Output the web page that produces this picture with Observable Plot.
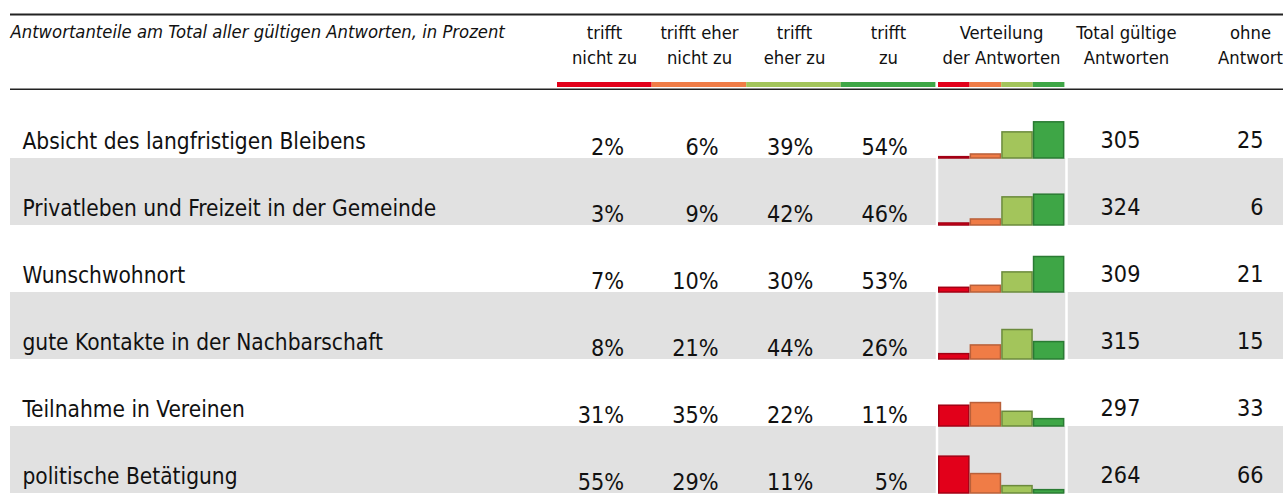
<!DOCTYPE html>
<html>
<head>
<meta charset="utf-8">
<script src="https://cdn.jsdelivr.net/npm/d3@7"></script>
<script src="https://cdn.jsdelivr.net/npm/@observablehq/plot@0.6"></script>
<style>
  html, body { margin: 0; padding: 0; background: #fff; }
  #chart svg { display: block; }
</style>
</head>
<body>
<div id="chart"></div>
<script>
// ---------- data ----------
const categories = [
  "Absicht des langfristigen Bleibens",
  "Privatleben und Freizeit in der Gemeinde",
  "Wunschwohnort",
  "gute Kontakte in der Nachbarschaft",
  "Teilnahme in Vereinen",
  "politische Betätigung"
];
const levels = ["trifft nicht zu", "trifft eher nicht zu", "trifft eher zu", "trifft zu"];
const trifftNichtZu     = [2, 3, 7, 8, 31, 55];
const trifftEherNichtZu = [6, 9, 10, 21, 35, 29];
const trifftEherZu      = [39, 42, 30, 44, 22, 11];
const trifftZu          = [54, 46, 53, 26, 11, 5];
const totalGueltig      = [305, 324, 309, 315, 297, 264];
const ohneAntwort       = [25, 6, 21, 15, 33, 66];
const headerTitle = "Antwortanteile am Total aller gültigen Antworten, in Prozent";
const columnHeaders = [
  "trifft\nnicht zu", "trifft eher\nnicht zu", "trifft\neher zu", "trifft\nzu",
  "Verteilung\nder Antworten", "Total gültige\nAntworten", "ohne\nAntwort"
];

// ---------- styles / layout ----------
const W = 1283;
const FONT = '"Liberation Sans Narrow", "Arial Narrow", "DejaVu Sans Condensed", sans-serif';
const fills   = ["#e2001a", "#f07c46", "#a3c55b", "#3ea646"];
const strokes = ["#a30014", "#b9603a", "#6b8a3c", "#2a7b33"];
const bigLeft = 557, bigW = 94.6;
const miniLeft = 938, miniW = 31.6;
const headerX = [604, 699, 794, 888, 1001, 1126, 1250];
const labelX = 22, totalX = 1120, ohneRight = 1263;
const ink = "#111";
const headFont = 18.3, labelFont = 22.5, numFont = 23.2;

// ---------- derived tables ----------
const series = [trifftNichtZu, trifftEherNichtZu, trifftEherZu, trifftZu];
const rows = categories.map((c, i) => ({cat: c, i, total: totalGueltig[i], ohne: ohneAntwort[i]}));
const long = categories.flatMap((c, i) => series.map((s, k) => ({cat: c, k, level: levels[k], pct: s[i]})));
const grayRows = categories.filter((c, i) => i % 2 === 1);

// ---------- header ----------
const header = Plot.plot({
  width: W, height: 90,
  marginTop: 0, marginBottom: 0, marginLeft: 0, marginRight: 0,
  x: {domain: [0, W], range: [0, W], axis: null},
  y: {domain: [0, 90], range: [0, 90], axis: null},
  color: {type: "identity"},
  marks: [
    Plot.ruleY([14, 89], {x1: 10, x2: W, stroke: "#222", strokeWidth: 2.2}),
    Plot.text([headerTitle], {x: 10, y: 37, text: d => d, textAnchor: "start", lineAnchor: "bottom",
      fontStyle: "italic", fontSize: headFont, fontFamily: FONT, fill: ink}),
    Plot.text(columnHeaders, {x: (d, i) => headerX[i], y: 63, text: d => d, textAnchor: "middle",
      lineAnchor: "bottom", lineHeight: 25 / headFont, fontSize: headFont, fontFamily: FONT, fill: ink}),
    Plot.rect(levels, {x1: (d, i) => bigLeft + i * bigW, x2: (d, i) => bigLeft + (i + 1) * bigW,
      y1: 82, y2: 87, fill: (d, i) => fills[i]}),
    Plot.rect(levels, {x1: (d, i) => miniLeft + i * miniW, x2: (d, i) => miniLeft + (i + 1) * miniW,
      y1: 82, y2: 87, fill: (d, i) => fills[i]})
  ]
});

// ---------- body ----------
const body = Plot.plot({
  width: W, height: 404,
  marginTop: 0, marginBottom: 0, marginLeft: 0, marginRight: 0,
  facet: {marginTop: 0, marginBottom: 0, marginLeft: 0, marginRight: 0},
  x: {domain: [0, W], range: [0, W], axis: null},
  y: {domain: [0, 100], axis: null},
  fy: {domain: categories, padding: 0, axis: null, label: null},
  color: {type: "identity"},
  marks: [
    Plot.barX(grayRows, {fy: d => d, x1: 10, x2: W, fill: "#e1e1e1"}),
    Plot.ruleX([936.5, 1066], {stroke: "#fff", strokeWidth: 2.5}),
    Plot.rect(long, {fy: "cat",
      x1: d => miniLeft + d.k * miniW + 0.75, x2: d => miniLeft + (d.k + 1) * miniW - 0.75,
      y1: 0, y2: "pct",
      fill: d => fills[d.k], stroke: d => strokes[d.k], strokeWidth: 1.5}),
    Plot.text(rows, {fy: "cat", x: labelX, text: "cat", frameAnchor: "bottom", dy: -10,
      textAnchor: "start", lineAnchor: "bottom", fontSize: labelFont, fontFamily: FONT, fill: ink}),
    Plot.text(long, {fy: "cat", x: d => bigLeft + (d.k + 1) * bigW - 28, text: d => d.pct + "%",
      frameAnchor: "bottom", dy: -4, textAnchor: "end", lineAnchor: "bottom",
      fontSize: numFont, fontFamily: FONT, fill: ink}),
    Plot.text(rows, {fy: "cat", x: totalX, text: d => String(d.total), frameAnchor: "bottom", dy: -11,
      textAnchor: "middle", lineAnchor: "bottom", fontSize: numFont, fontFamily: FONT, fill: ink}),
    Plot.text(rows, {fy: "cat", x: ohneRight, text: d => String(d.ohne), frameAnchor: "bottom", dy: -11,
      textAnchor: "end", lineAnchor: "bottom", fontSize: numFont, fontFamily: FONT, fill: ink})
  ]
});

const root = document.getElementById("chart");
root.appendChild(header);
root.appendChild(body);
</script>
</body>
</html>
